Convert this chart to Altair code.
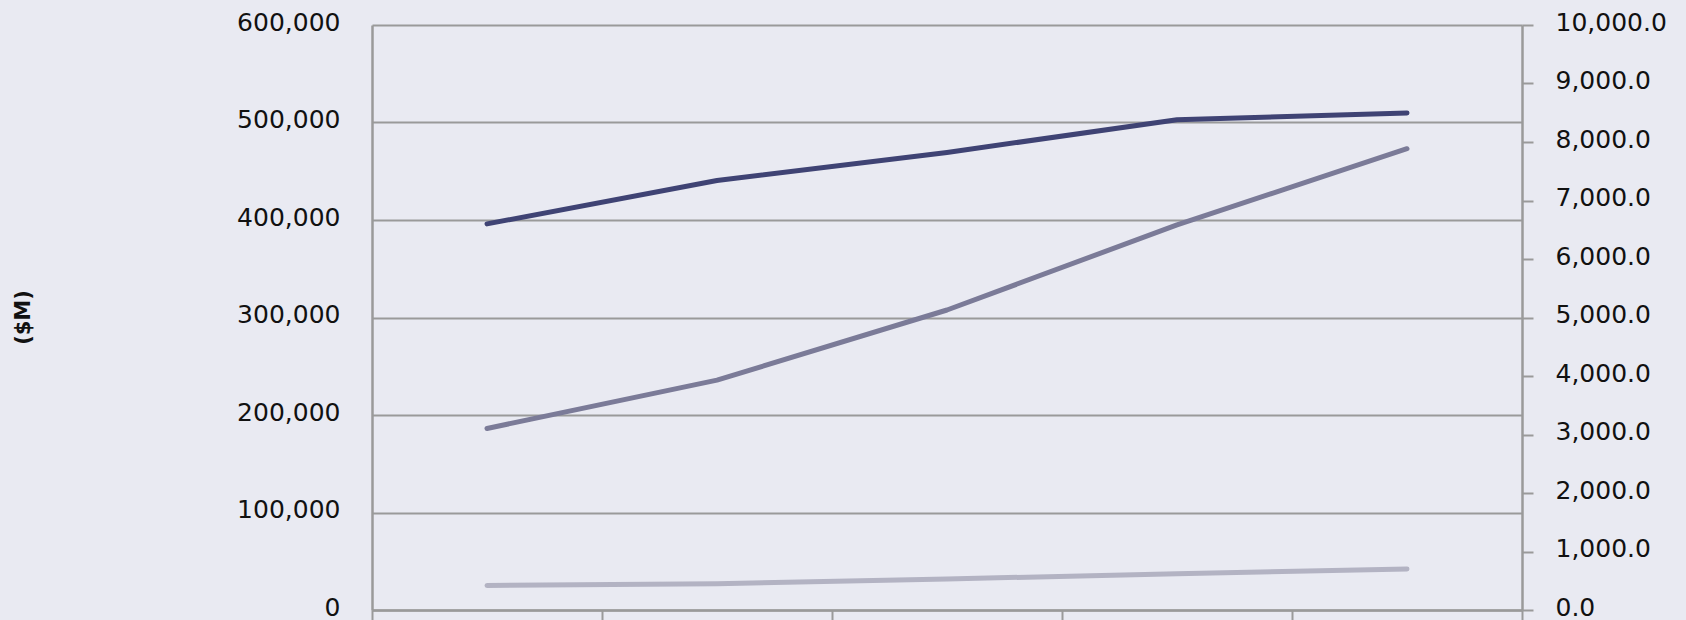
import altair as alt
import pandas as pd

# Five periods (the category labels lie below the visible area)
periods = ["P1", "P2", "P3", "P4", "P5"]
# Left axis series ($M)
series_dark = [396000, 440500, 469300, 502900, 509800]
series_mid = [186200, 235800, 307700, 395000, 473100]
# Right axis series
series_light = [420, 450, 530, 620, 700]

left_ticks = [0, 100000, 200000, 300000, 400000, 500000, 600000]
right_ticks = [0, 1000, 2000, 3000, 4000, 5000, 6000, 7000, 8000, 9000, 10000]
x_bounds = [0, 1, 2, 3, 4, 5]

NAVY = "#3f4374"
MID = "#7b7b98"
LIGHT = "#b3b3c3"
GRID = "#9a9a9a"
BG = "#e9eaf2"
FONT = "DejaVu Sans"

rows_left = []
for i, p in enumerate(periods):
    rows_left.append({"pos": i + 0.5, "period": p, "series": "dark", "value": series_dark[i]})
    rows_left.append({"pos": i + 0.5, "period": p, "series": "mid", "value": series_mid[i]})
df_left = pd.DataFrame(rows_left)
df_right = pd.DataFrame({"pos": [i + 0.5 for i in range(len(periods))],
                         "period": periods, "value": series_light})

x_enc = alt.X("pos:Q", scale=alt.Scale(domain=[0, 5], nice=False, zero=False),
              axis=alt.Axis(values=x_bounds, labels=False, ticks=True, tickSize=14,
                            tickColor=GRID, tickWidth=2, domain=True, domainColor=GRID,
                            domainWidth=2.5, grid=False, title=None))

left = alt.Chart(df_left).mark_line(strokeWidth=5, strokeCap="round", strokeJoin="round").encode(
    x=x_enc,
    y=alt.Y("value:Q", scale=alt.Scale(domain=[0, 600000], nice=False),
            axis=alt.Axis(values=left_ticks, format=",d", orient="left", ticks=False, tickSize=0,
                          labelPadding=32, labelFont=FONT, labelFontSize=25, labelColor="#111111",
                          labelOffset=-3,
                          domain=True, domainColor=GRID, domainWidth=2.5,
                          grid=True, gridColor=GRID, gridWidth=2,
                          title="($M)", titleFont=FONT, titleFontSize=21, titleFontWeight="bold",
                          titleColor="#111111", titleX=-339, titleY=292, titleAngle=270,
                          titleAlign="center", titleBaseline="bottom")),
    color=alt.Color("series:N", scale=alt.Scale(domain=["dark", "mid"], range=[NAVY, MID]), legend=None),
)

right = alt.Chart(df_right).mark_line(strokeWidth=5, strokeCap="round", strokeJoin="round", color=LIGHT).encode(
    x=x_enc,
    y=alt.Y("value:Q", scale=alt.Scale(domain=[0, 10000], nice=False),
            axis=alt.Axis(values=right_ticks, format=",.1f", orient="right", ticks=True, tickSize=11,
                          tickColor=GRID, tickWidth=2, labelPadding=22, labelFont=FONT,
                          labelFontSize=25, labelColor="#111111", labelOffset=-3,
                          domain=True, domainColor=GRID,
                          domainWidth=2.5, grid=False, title=None)),
)

chart = alt.layer(right, left).resolve_scale(y="independent").properties(
    width=1150, height=585,
    autosize=alt.AutoSizeParams(type="none"),
    padding={"left": 372, "top": 25, "right": 164, "bottom": 10},
    background=BG,
).configure_view(stroke=None)

chart.save("out.html", embed_options={"renderer": "svg", "actions": False})
